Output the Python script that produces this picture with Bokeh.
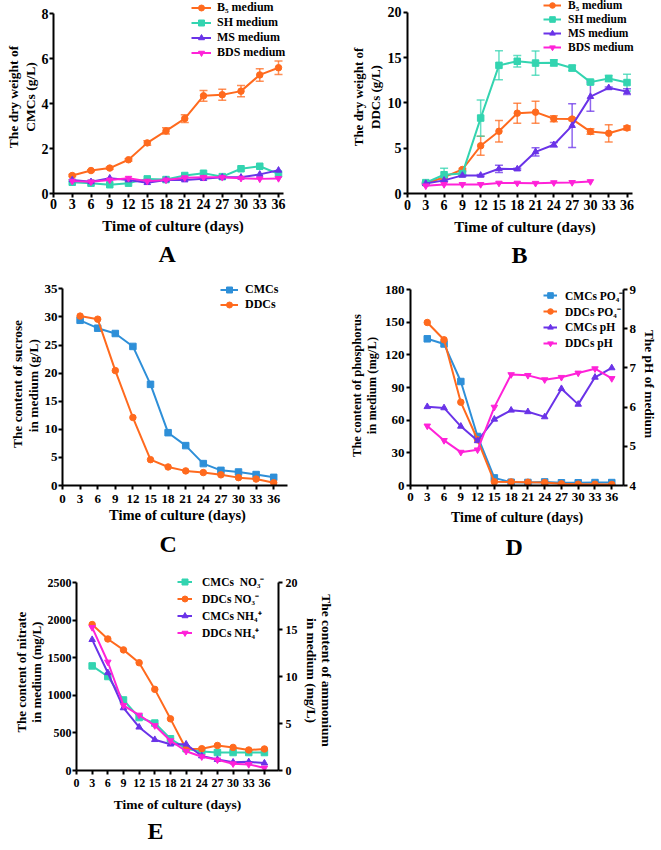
from bokeh.plotting import figure
from bokeh.models import (Range1d, LinearAxis, FixedTicker, Whisker, TeeHead,
                          ColumnDataSource, Title, Legend, LegendItem)
from bokeh.layouts import column, row
from bokeh.embed import file_html
from bokeh.resources import INLINE

# ---------------- data ----------------
days = [3, 6, 9, 12, 15, 18, 21, 24, 27, 30, 33, 36]
days_bds = [3, 6, 9, 12, 15, 18, 21, 24, 27, 30]
x_ticks = [0, 3, 6, 9, 12, 15, 18, 21, 24, 27, 30, 33, 36]

# A: dry weight of CMCs (g/L)
A_B5 = [0.80, 1.02, 1.13, 1.50, 2.25, 2.78, 3.33, 4.34, 4.39, 4.55, 5.27, 5.59]
A_B5_err = [0.04, 0.04, 0.05, 0.05, 0.10, 0.14, 0.17, 0.24, 0.24, 0.25, 0.28, 0.30]
A_SH = [0.50, 0.46, 0.39, 0.46, 0.65, 0.62, 0.80, 0.90, 0.75, 1.10, 1.21, 0.87]
A_MS = [0.60, 0.52, 0.68, 0.60, 0.48, 0.60, 0.60, 0.66, 0.72, 0.72, 0.85, 1.03]
A_BDS = [0.55, 0.52, 0.60, 0.68, 0.55, 0.60, 0.70, 0.72, 0.72, 0.68, 0.65, 0.67]

# B: dry weight of DDCs (g/L)
B_B5 = [1.10, 1.80, 2.65, 5.27, 6.87, 8.87, 8.98, 8.25, 8.22, 6.84, 6.65, 7.24]
B_B5_err = [0.10, 0.10, 0.10, 1.05, 1.18, 1.10, 1.22, 0.33, 0.15, 0.30, 0.95, 0.22]
B_SH = [1.20, 2.07, 2.20, 8.33, 14.15, 14.60, 14.40, 14.43, 13.85, 12.30, 12.70, 12.25]
B_SH_err = [0.10, 0.73, 0.20, 2.00, 1.60, 0.64, 1.33, 0.35, 0.30, 0.20, 0.33, 0.93]
B_MS = [1.10, 1.45, 2.00, 2.00, 2.73, 2.70, 4.60, 5.38, 7.50, 10.70, 11.67, 11.25]
B_MS_err = [0.05, 0.10, 0.10, 0.10, 0.40, 0.10, 0.45, 0.25, 2.42, 1.62, 0.10, 0.33]
B_BDS = [0.85, 1.00, 1.00, 1.00, 1.15, 1.15, 1.13, 1.20, 1.22, 1.32]

# C: sucrose (g/L)
C_CMC = [29.4, 28.0, 27.05, 24.75, 18.0, 9.4, 7.1, 3.9, 2.7, 2.4, 1.95, 1.45]
C_DDC = [30.15, 29.6, 20.45, 12.1, 4.6, 3.3, 2.6, 2.3, 1.9, 1.4, 1.15, 0.5]

# D: phosphorus (mg/L) and pH
D_CMC_PO4 = [134.7, 130.0, 95.5, 45.0, 7.0, 3.0, 2.8, 3.3, 2.5, 2.5, 2.7, 2.7]
D_DDC_PO4 = [149.7, 133.8, 76.5, 42.0, 3.4, 3.3, 3.0, 2.8, 1.5, 1.2, 1.2, 1.0]
D_CMC_pH = [6.01, 5.98, 5.51, 5.14, 5.69, 5.92, 5.88, 5.75, 6.47, 6.07, 6.76, 7.00]
D_DDC_pH = [5.52, 5.15, 4.85, 4.91, 6.00, 6.83, 6.81, 6.70, 6.76, 6.87, 6.98, 6.73]

# E: nitrate (mg/L) and ammonium (mg/L)
E_CMC_NO3 = [1391, 1250, 938, 704, 631, 422, 290, 252, 239, 239, 239, 239]
E_DDC_NO3 = [1941, 1749, 1604, 1433, 1079, 687, 286, 290, 333, 307, 273, 286]
E_CMC_NH4 = [13.92, 10.40, 6.66, 4.61, 3.28, 2.80, 2.80, 1.54, 1.16, 0.89, 0.92, 0.79]
E_DDC_NH4 = [15.22, 11.54, 6.93, 5.90, 4.78, 3.17, 2.05, 1.47, 1.13, 0.72, 0.65, 0.27]

# ---------------- style ----------------
FONT = "Liberation Serif"
ORANGE = "#FF6A1E"
TEAL = "#33D4B0"
PURPLE = "#6A33E8"
MAGENTA = "#FF22D8"
BLUE = "#2E8FD8"
XLABEL = "Time of culture (days)"


def make_panel(fx, fy, w, h, frame, x_axis_end_px, x_axis_max, y_axis_top_px, ylim, extra=None):
    """frame = (left, top, right, bottom) in page px. The frame may be larger than the
    drawn axes (axes are bounded), so that legends can sit where the original shows them."""
    l, t, r, b = frame
    kx = (x_axis_end_px - l) / x_axis_max
    ky = (b - y_axis_top_px) / (ylim[1] - ylim[0])
    p = figure(width=w, height=h,
               x_range=Range1d(0, (r - l) / kx),
               y_range=Range1d(ylim[0], ylim[0] + (b - t) / ky),
               output_backend="svg", toolbar_location=None,
               min_border_left=l - fx, min_border_right=fx + w - r,
               min_border_top=t - fy, min_border_bottom=fy + h - b)
    p.outline_line_color = None
    p.xgrid.visible = False
    p.ygrid.visible = False
    p.background_fill_color = "white"
    p.border_fill_color = "white"
    p.xaxis[0].bounds = (0, x_axis_max)
    p.yaxis[0].bounds = ylim
    if extra is not None:
        name, lo, hi = extra
        k2 = (b - y_axis_top_px) / (hi - lo)
        p.extra_y_ranges = {name: Range1d(lo, lo + (b - t) / k2)}
    return p


def style_axis(ax, ticks, tick_size, label_size, label_standoff=2, major_standoff=2,
               line_height=1.0):
    ax.ticker = FixedTicker(ticks=ticks)
    ax.axis_line_width = 2
    ax.axis_line_color = "black"
    ax.major_tick_line_width = 2
    ax.major_tick_line_color = "black"
    ax.major_tick_in = 0
    ax.major_tick_out = 4
    ax.minor_tick_line_color = None
    ax.major_label_text_font = FONT
    ax.major_label_text_font_style = "bold"
    ax.major_label_text_font_size = f"{tick_size}px"
    ax.major_label_text_color = "black"
    ax.major_label_standoff = major_standoff
    ax.axis_label_text_font = FONT
    ax.axis_label_text_font_style = "bold"
    ax.axis_label_text_font_size = f"{label_size}px"
    ax.axis_label_text_color = "black"
    ax.axis_label_standoff = label_standoff
    ax.axis_label_text_line_height = line_height


def series(p, xs, ys, color, marker, items, label, y_range_name="default", size=6.5):
    src = ColumnDataSource(dict(x=xs, y=ys))
    r1 = p.line("x", "y", source=src, line_color=color, line_width=2, y_range_name=y_range_name)
    r2 = p.scatter("x", "y", source=src, marker=marker, size=size, fill_color=color,
                   line_color=color, y_range_name=y_range_name)
    items.append(LegendItem(label=label, renderers=[r1, r2]))


def errors(p, xs, ys, errs, color):
    src = ColumnDataSource(dict(x=xs, lo=[a - b for a, b in zip(ys, errs)],
                                hi=[a + b for a, b in zip(ys, errs)]))
    w = Whisker(source=src, base="x", lower="lo", upper="hi", dimension="height",
                line_color=color, line_width=1.5, line_alpha=0.75,
                upper_head=TeeHead(size=8, line_color=color, line_width=1.5, line_alpha=0.75),
                lower_head=TeeHead(size=8, line_color=color, line_width=1.5, line_alpha=0.75))
    p.add_layout(w)


def add_legend(p, items, loc, row_h, glyph_w=20, font_size=12, standoff=6):
    lg = Legend(items=items, location=loc, orientation="vertical",
                label_text_font=FONT, label_text_font_style="bold",
                label_text_font_size=f"{font_size}px", label_text_color="black",
                glyph_width=glyph_w, glyph_height=row_h, label_height=row_h,
                label_width=60, label_standoff=standoff, spacing=0, padding=0, margin=0,
                border_line_color=None, background_fill_alpha=0)
    p.add_layout(lg)


def add_letter(p, text, offset, standoff):
    p.add_layout(Title(text=text, align="left", offset=offset, standoff=standoff,
                       text_font=FONT, text_font_style="bold", text_font_size="24px",
                       text_color="black"), "below")


# ---------------- Panel A ----------------
pA = make_panel(0, 0, 342, 281, (53, 0, 292, 193), 283, 36.8, 13, (0, 8))
itA = []
errors(pA, days, A_B5, A_B5_err, ORANGE)
series(pA, days, A_B5, ORANGE, "circle", itA, "B₅ medium")
series(pA, days, A_SH, TEAL, "square", itA, "SH medium")
series(pA, days, A_MS, PURPLE, "triangle", itA, "MS medium")
series(pA, days, A_BDS, MAGENTA, "inverted_triangle", itA, "BDS medium")
style_axis(pA.xaxis[0], x_ticks, 14, 15, label_standoff=6, major_standoff=1)
style_axis(pA.yaxis[0], [0, 2, 4, 6, 8], 14, 13.5, label_standoff=1, major_standoff=1,
           line_height=1.1)
pA.xaxis[0].axis_label = XLABEL
pA.yaxis[0].axis_label = "The dry weight of\nCMCs (g/L)"
add_legend(pA, itA, (138, 133), 15)
add_letter(pA, "A", 105, 5)

# ---------------- Panel B ----------------
pB = make_panel(342, 0, 318, 281, (407, 0, 642, 195), 632, 36.9, 12, (0, 20))
itB = []
errors(pB, days, B_B5, B_B5_err, ORANGE)
errors(pB, days, B_SH, B_SH_err, TEAL)
errors(pB, days, B_MS, B_MS_err, PURPLE)
series(pB, days, B_B5, ORANGE, "circle", itB, "B₅ medium")
series(pB, days, B_SH, TEAL, "square", itB, "SH medium")
series(pB, days, B_MS, PURPLE, "triangle", itB, "MS medium")
series(pB, days_bds, B_BDS, MAGENTA, "inverted_triangle", itB, "BDS medium")
style_axis(pB.xaxis[0], x_ticks, 14, 15, label_standoff=6, major_standoff=2)
style_axis(pB.yaxis[0], [0, 5, 10, 15, 20], 14, 13, label_standoff=2, major_standoff=2,
           line_height=1.1)
pB.xaxis[0].axis_label = XLABEL
pB.yaxis[0].axis_label = "The dry weight of\nDDCs (g/L)"
add_legend(pB, itB, (136, 139), 14, glyph_w=18, font_size=11.5, standoff=7)
add_letter(pB, "B", 104, 5)

# ---------------- Panel C ----------------
pC = make_panel(0, 281, 334, 287, (62, 281, 292, 489), 287, 38.35, 287.5, (0, 35))
itC = []
series(pC, days, C_CMC, BLUE, "square", itC, "CMCs")
series(pC, days, C_DDC, ORANGE, "circle", itC, "DDCs")
style_axis(pC.xaxis[0], x_ticks, 13, 14.5, label_standoff=1, major_standoff=5)
style_axis(pC.yaxis[0], [0, 5, 10, 15, 20, 25, 30, 35], 13, 13.4, label_standoff=1,
           major_standoff=1, line_height=1.05)
pC.xaxis[0].axis_label = XLABEL
pC.yaxis[0].axis_label = "The content of sucrose\nin  medium (g/L)"
add_legend(pC, itC, (158, 173), 15, glyph_w=18, standoff=7)
add_letter(pC, "C", 97, 7)

# ---------------- Panel D ----------------
pD = make_panel(334, 281, 326, 287, (410, 282, 629, 485), 629, 38.1, 289, (0, 180),
                extra=("ph", 4, 9))
itD = []
series(pD, days, D_CMC_PO4, BLUE, "square", itD, "CMCs PO₄⁻")
series(pD, days, D_DDC_PO4, ORANGE, "circle", itD, "DDCs PO₄⁻")
series(pD, days, D_CMC_pH, PURPLE, "triangle", itD, "CMCs pH", y_range_name="ph")
series(pD, days, D_DDC_pH, MAGENTA, "inverted_triangle", itD, "DDCs pH", y_range_name="ph")
style_axis(pD.xaxis[0], x_ticks, 13, 14, label_standoff=6, major_standoff=3)
style_axis(pD.yaxis[0], [0, 30, 60, 90, 120, 150, 180], 13, 12.5, label_standoff=3,
           line_height=1.1)
pD.xaxis[0].axis_label = XLABEL
pD.yaxis[0].axis_label = "The content of  phosphorus\nin  medium (mg/L)"
axD = LinearAxis(y_range_name="ph", axis_label="The pH of medium")
style_axis(axD, [4, 5, 6, 7, 8, 9], 13, 13.4, label_standoff=3)
axD.bounds = (4, 9)
pD.add_layout(axD, "right")
add_legend(pD, itD, (133, 134), 16, glyph_w=14, font_size=11.5, standoff=8)
add_letter(pD, "D", 95, 8)

# ---------------- Panel E ----------------
pE = make_panel(0, 568, 360, 278, (76, 570, 278, 770), 278, 38.7, 582, (0, 2500),
                extra=("nh4", 0, 20))
itE = []
series(pE, days, E_CMC_NO3, TEAL, "square", itE, "CMCs  NO₃⁻")
series(pE, days, E_DDC_NO3, ORANGE, "circle", itE, "DDCs NO₃⁻")
series(pE, days, E_CMC_NH4, PURPLE, "triangle", itE, "CMCs NH₄⁺", y_range_name="nh4")
series(pE, days, E_DDC_NH4, MAGENTA, "inverted_triangle", itE, "DDCs NH₄⁺", y_range_name="nh4")
style_axis(pE.xaxis[0], x_ticks, 12, 13.5, label_standoff=7, major_standoff=4)
style_axis(pE.yaxis[0], [0, 500, 1000, 1500, 2000, 2500], 12, 13, label_standoff=1,
           major_standoff=1)
pE.xaxis[0].axis_label = XLABEL
pE.yaxis[0].axis_label = "The content of  nitrate\nin  medium (mg/L)"
axE = LinearAxis(y_range_name="nh4", axis_label="The content of ammonium\nin medium (mg/L)")
style_axis(axE, [0, 5, 10, 15, 20], 12, 13.5, label_standoff=3, major_standoff=3)
axE.bounds = (0, 20)
pE.add_layout(axE, "right")
add_legend(pE, itE, (101, 129), 17, glyph_w=15, font_size=11.5, standoff=10)
add_letter(pE, "E", 71, 3)

layout = column(row(pA, pB), row(pC, pD), pE)

with open("out.html", "w") as f:
    f.write(file_html(layout, INLINE))
